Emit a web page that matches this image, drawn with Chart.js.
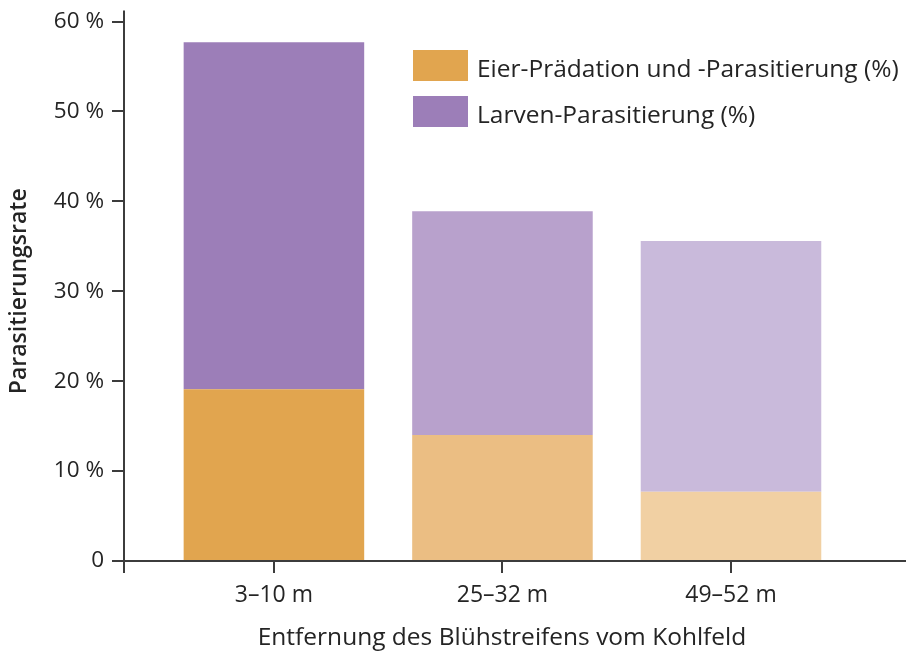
<!DOCTYPE html>
<html>
<head>
<meta charset="utf-8">
<script src="https://cdn.jsdelivr.net/npm/chart.js@4"></script>
<style>
  html, body { margin: 0; padding: 0; background: #ffffff; }
  #wrap { width: 908px; height: 656px; }
</style>
</head>
<body>
<div id="wrap"><canvas id="c" width="908" height="656"></canvas></div>
<script>
// ---- data ----
const categories = ['3–10 m', '25–32 m', '49–52 m'];
const eierValues = [19.1, 14.0, 7.7];        // Eier-Prädation und -Parasitierung (%)
const larvenValues = [38.6, 24.9, 27.9];     // Larven-Parasitierung (%) (stacked on top)
const yTicks = [0, 10, 20, 30, 40, 50, 60];
const seriesLabels = ['Eier-Prädation und -Parasitierung (%)', 'Larven-Parasitierung (%)'];
const xTitle = 'Entfernung des Blühstreifens vom Kohlfeld';
const yTitle = 'Parasitierungsrate';

// ---- styles ----
const FONT = '"Open Sans", Lato, sans-serif';
const TEXT = '#242424';
const AXIS = '#3c3c3c';
const eierColors = ['#E1A54F', '#EBBE83', '#F1D0A3'];
const larvenColors = ['#9C7EB8', '#B8A1CC', '#C9BADB'];

const axisLines = {
  id: 'axisLines',
  afterDatasetsDraw(chart) {
    const {ctx, chartArea, scales} = chart;
    const y0 = scales.y.getPixelForValue(0);
    const x0 = chartArea.left;
    ctx.save();
    ctx.strokeStyle = AXIS;
    ctx.lineWidth = 2;
    ctx.beginPath();
    ctx.moveTo(x0, chartArea.top - 11);
    ctx.lineTo(x0, y0 + 12);
    ctx.moveTo(x0 - 11, y0);
    ctx.lineTo(chart.width - 2, y0);
    ctx.stroke();
    ctx.restore();
  }
};

const boxLegend = {
  id: 'boxLegend',
  afterDraw(chart) {
    const {ctx} = chart;
    const colors = [eierColors[0], larvenColors[0]];
    ctx.save();
    ctx.font = '500 24.5px ' + FONT;
    ctx.textBaseline = 'middle';
    ctx.textAlign = 'left';
    for (let i = 0; i < seriesLabels.length; i++) {
      const bx = 413, by = 50 + i * 46;
      ctx.fillStyle = colors[i];
      ctx.fillRect(bx, by, 55, 31);
      ctx.fillStyle = TEXT;
      ctx.fillText(seriesLabels[i], bx + 64, by + 20);
    }
    ctx.restore();
  }
};

const xPoints = (vals) => vals.map((v, i) => ({x: i, y: v}));

new Chart(document.getElementById('c'), {
  type: 'bar',
  data: {
    datasets: [
      { label: seriesLabels[0], data: xPoints(eierValues), backgroundColor: eierColors, borderWidth: 0 },
      { label: seriesLabels[1], data: xPoints(larvenValues), backgroundColor: larvenColors, borderWidth: 0 }
    ]
  },
  options: {
    responsive: false,
    animation: false,
    layout: { padding: { top: 21, right: 28, bottom: 0, left: 0 } },
    datasets: { bar: { categoryPercentage: 1, barPercentage: 0.79 } },
    plugins: { legend: { display: false }, tooltip: { enabled: false } },
    scales: {
      x: {
        type: 'linear',
        stacked: true,
        offset: false,
        min: -0.656,
        max: 2.652,
        afterBuildTicks: (s) => { s.ticks = categories.map((c, i) => ({value: i})); },
        afterFit: (s) => { s.height = 95; },
        border: { display: false },
        grid: { offset: false, drawOnChartArea: false, drawTicks: true, tickLength: 12, tickColor: AXIS, lineWidth: 2 },
        ticks: {
          font: { family: FONT, size: 23, weight: '500' }, color: TEXT, padding: 9,
          maxRotation: 0, autoSkip: false,
          callback: (v) => categories[v] ?? ''
        },
        title: { display: true, text: xTitle, font: { family: FONT, size: 24.5, weight: '500' }, color: TEXT, padding: { top: 2, bottom: 3 } }
      },
      y: {
        stacked: true,
        min: 0, max: 60,
        afterBuildTicks: (s) => { s.ticks = yTicks.map(v => ({value: v})); },
        afterFit: (s) => { s.width = 124; },
        border: { display: false },
        grid: { drawOnChartArea: false, drawTicks: true, tickLength: 12, tickColor: AXIS, lineWidth: 2 },
        ticks: {
          font: { family: FONT, size: 22.5, weight: '500' }, color: TEXT, padding: 8,
          callback: (v) => v === 0 ? '0' : v + ' %'
        },
        title: { display: true, text: yTitle, font: { family: FONT, size: 23, weight: '600' }, color: TEXT, padding: { top: 6, bottom: 0 } }
      }
    }
  },
  plugins: [axisLines, boxLegend]
});
</script>
</body>
</html>
